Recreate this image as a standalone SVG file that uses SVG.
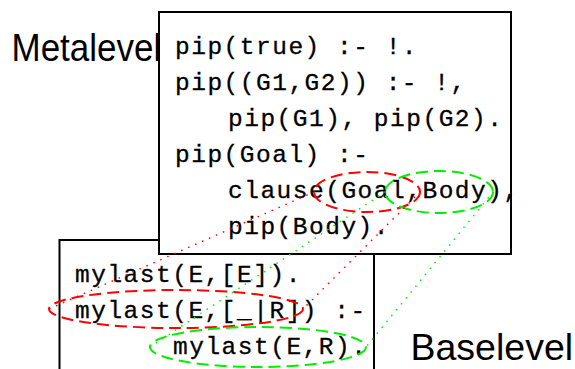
<svg xmlns="http://www.w3.org/2000/svg" width="575" height="369" viewBox="0 0 575 369">
<style>
.box{fill:#fff;stroke:#000;stroke-width:2}
.code{font-family:"Liberation Mono","Courier New",monospace;font-size:24.5px;letter-spacing:1.5px;fill:#000;stroke:#000;stroke-width:0.3}
.lbl{font-family:"Liberation Sans",Arial,sans-serif;fill:#000}
.red{fill:none;stroke:#ff0000;stroke-width:2;stroke-dasharray:12 6}
.grn{fill:none;stroke:#00ee00;stroke-width:2;stroke-dasharray:12 6}
.rdot{stroke:#ff0000;stroke-width:1.6;stroke-dasharray:0.1 7.5;stroke-linecap:round;fill:none}
.gdot{stroke:#00ee00;stroke-width:1.6;stroke-dasharray:0.1 7.5;stroke-linecap:round;fill:none}
</style>
<rect width="575" height="369" fill="#fff"/>
<g id="baselevel">
<rect class="box" x="59.5" y="240" width="314.5" height="140"/>
<text class="code" x="75" y="282">mylast(E,[E]).</text>
<text class="code" x="75" y="318">mylast(E,[_|R]) :-</text>
<text class="code" x="173" y="354">mylast(E,R).</text>
</g>
<g id="metalevel">
<rect class="box" x="159" y="12" width="352" height="242"/>
<text class="code" x="175" y="54">pip(true) :- !.</text>
<text class="code" x="175" y="90">pip((G1,G2)) :- !,</text>
<text class="code" x="228" y="126">pip(G1), pip(G2).</text>
<text class="code" x="175" y="162">pip(Goal) :-</text>
<text class="code" x="228" y="198">clause(Goal,Body),</text>
<text class="code" x="228" y="234">pip(Body).</text>
</g>
<g id="label-metalevel"><text class="lbl" x="11.5" y="61" font-size="35" transform="translate(0 61) scale(1 1.1) translate(0 -61)">Metalevel</text></g>
<g id="label-baselevel"><text class="lbl" x="410.5" y="360" font-size="37.5">Baselevel</text></g>
<g id="highlights">
<ellipse class="red" cx="367" cy="192" rx="53" ry="20"/>
<ellipse class="grn" cx="439" cy="192" rx="54" ry="21"/>
<ellipse class="red" cx="176" cy="309" rx="127" ry="19"/>
<ellipse class="grn" cx="258" cy="347" rx="108" ry="20"/>
</g>
<g id="connectors">
<line class="rdot" x1="314" y1="192" x2="49" y2="309"/>
<line class="rdot" x1="420" y1="192" x2="303" y2="309"/>
<line class="gdot" x1="385" y1="192" x2="150" y2="347"/>
<line class="gdot" x1="493" y1="192" x2="366" y2="347"/>
</g>
</svg>
